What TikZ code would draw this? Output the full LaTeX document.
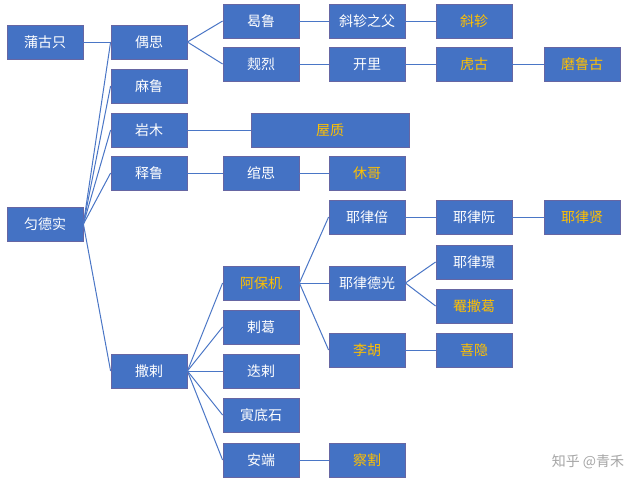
\documentclass[tikz,border=0pt]{standalone}
\usepackage{fontspec}
\setmainfont{Noto Sans CJK SC}
\begin{document}
\begin{tikzpicture}[x=1pt,y=-1pt,
 bx/.style={draw=black!60!blue!60,line width=0.8pt,fill=boxblue,minimum width=76pt,minimum height=34pt,inner sep=0pt,text=white,font=\fontsize{14}{16}\selectfont},
 gd/.style={bx,text=goldc},
 ln/.style={draw=lineblue,line width=1pt}]
\definecolor{boxblue}{HTML}{4472C4}
\definecolor{goldc}{HTML}{FFC000}
\definecolor{lineblue}{HTML}{4A76C6}
\useasboundingbox[fill=white] (0,0) rectangle (640,490);
\node[bx] (pgz) at (45,42) {蒲古只};
\node[bx] (os) at (149,42) {偶思};
\node[bx] (hl) at (261,21) {曷鲁};
\node[bx] (xzf) at (367,21) {斜轸之父};
\node[gd] (xz) at (474,21) {斜轸};
\node[bx] (dl) at (261,64) {觌烈};
\node[bx] (kl) at (367,64) {开里};
\node[gd] (hg) at (474,64) {虎古};
\node[gd] (mlg) at (582,64) {磨鲁古};
\node[bx] (ml) at (149,86) {麻鲁};
\node[bx] (ym) at (149,130) {岩木};
\node[gd,minimum width=158pt] (wz) at (330,130) {屋质};
\node[bx] (sl) at (149,173) {释鲁};
\node[bx] (ws) at (261,173) {绾思};
\node[gd] (xg) at (367,173) {休哥};
\node[bx] (ydsh) at (45,224) {匀德实};
\node[bx] (ylb) at (367,217) {耶律倍};
\node[bx] (ylr) at (474,217) {耶律阮};
\node[gd] (ylx) at (582,217) {耶律贤};
\node[gd] (abj) at (261,283) {阿保机};
\node[bx] (yldg) at (367,283) {耶律德光};
\node[bx] (ylj) at (474,262) {耶律璟};
\node[gd] (ysg) at (474,306) {罨撒葛};
\node[gd] (lh) at (367,350) {李胡};
\node[gd] (xy) at (474,350) {喜隐};
\node[bx] (sla) at (149,371) {撒剌};
\node[bx] (lg) at (261,327) {剌葛};
\node[bx] (dla) at (261,371) {迭剌};
\node[bx] (yds) at (261,415) {寅底石};
\node[bx] (ad) at (261,460) {安端};
\node[gd] (cg) at (367,460) {察割};
\node[text=gray!70,font=\fontsize{14}{16}\selectfont] (wm) at (588,462) {知乎 @青禾};
\foreach \a/\b in {pgz/os,os/hl,os/dl,hl/xzf,xzf/xz,dl/kl,kl/hg,hg/mlg,ym/wz,sl/ws,ws/xg,
 ydsh/os,ydsh/ml,ydsh/ym,ydsh/sl,ydsh/sla,sla/abj,sla/lg,sla/dla,sla/yds,sla/ad,ad/cg,
 abj/ylb,abj/yldg,abj/lh,ylb/ylr,ylr/ylx,yldg/ylj,yldg/ysg,lh/xy}
 \draw[ln] (\a.east) -- (\b.west);
\end{tikzpicture}
\end{document}
